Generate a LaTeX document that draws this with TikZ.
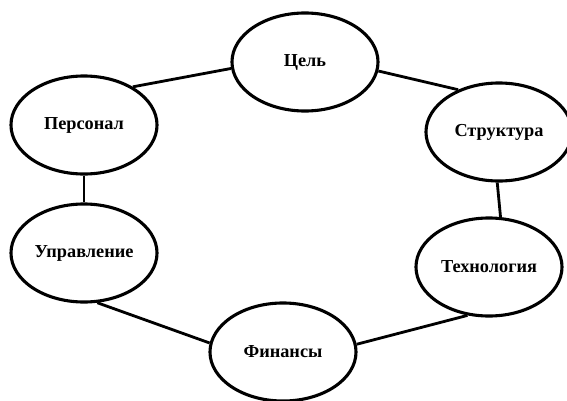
\documentclass[tikz,border=0pt]{standalone}
\usepackage{fontspec}
\setmainfont{Liberation Serif}
\usepackage{tikz}
\usetikzlibrary{shapes.geometric}

\begin{document}
\begin{tikzpicture}[x=0.025cm,y=-0.025cm,
    part/.style={ellipse,draw=black,line width=2.2pt,inner sep=0pt,minimum width=3.65cm,minimum height=2.45cm,font=\fontsize{13}{15}\selectfont\bfseries},
    link/.style={line width=2pt}]
    \useasboundingbox (0,0) rectangle (567,401);

    \node[part] (tsel) at (305,62) {Цель};
    \node[part] (personal) at (84,125) {Персонал};
    \node[part] (struktura) at (499,132) {Структура};
    \node[part] (upravlenie) at (84,253) {Управление};
    \node[part] (tehnologiya) at (489,267) {Технология};
    \node[part] (finansy) at (283,352) {Финансы};


    \path[link] (tsel.185) edge (personal.38);
    \path[link] (tsel.353) edge (struktura.134);
    \path[link] (personal.south) edge (upravlenie.north);
    \path[link] (struktura.268) edge (tehnologiya.77);
    \path[link] (upravlenie.285) edge (finansy.173);
    \path[link] (finansy.6) edge (tehnologiya.246);

\end{tikzpicture}
\end{document}
